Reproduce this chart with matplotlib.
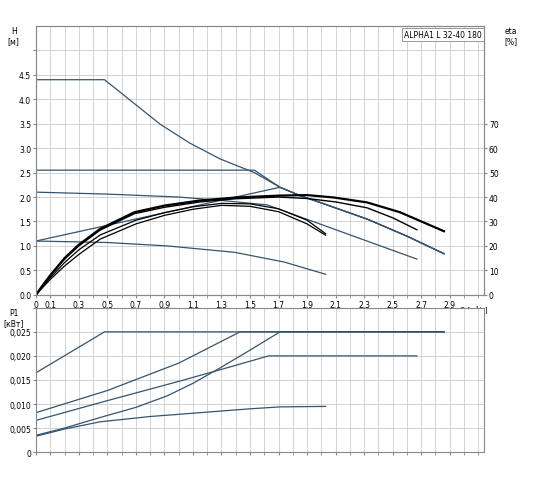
import matplotlib.pyplot as plt
from matplotlib.ticker import FixedLocator

# head curves H [m] vs Q [m3/h]
q_max = [0, 0.48, 0.87, 1.08, 1.29, 1.53, 1.71, 1.85, 1.99, 2.32, 2.6, 2.86]
h_max = [4.4, 4.4, 3.49, 3.1, 2.78, 2.5, 2.2, 2.03, 1.89, 1.55, 1.2, 0.84]
q_cp = [0, 1.53, 1.71, 1.85, 1.99, 2.32, 2.6, 2.86]
h_cp = [2.55, 2.55, 2.2, 2.03, 1.89, 1.55, 1.2, 0.84]
q_pp = [0, 0.5, 1.0, 1.3, 1.62, 2.67]
h_pp = [2.1, 2.06, 2.0, 1.93, 1.84, 0.73]
q_pp2 = [0, 1.71, 1.85, 1.99, 2.32, 2.6, 2.86]
h_pp2 = [1.1, 2.2, 2.03, 1.89, 1.55, 1.2, 0.84]
q_low = [0, 0.5, 0.92, 1.39, 1.74, 2.03]
h_low = [1.1, 1.07, 1.0, 0.87, 0.67, 0.42]

# efficiency curves eta [%]
q_e1 = [0, 0.05, 0.1, 0.2, 0.3, 0.45, 0.69, 0.9, 1.15, 1.4, 1.71, 1.9, 2.09, 2.32, 2.55, 2.86]
e_e1 = [0, 4.2, 8, 15, 20.5, 27, 33.8, 36.5, 38.6, 39.8, 40.6, 40.8, 39.8, 37.8, 33.8, 26]
q_e2 = [0, 0.05, 0.1, 0.2, 0.3, 0.45, 0.69, 0.9, 1.15, 1.4, 1.7, 1.9, 2.1, 2.32, 2.5, 2.67]
e_e2 = [0, 4, 7.8, 14.6, 20, 26.5, 33.2, 35.8, 38, 39.3, 40, 39.4, 38, 35.6, 31.5, 26.6]
q_e3 = [0, 0.05, 0.1, 0.2, 0.3, 0.45, 0.7, 0.9, 1.1, 1.3, 1.5, 1.7, 1.9, 2.03]
e_e3 = [0, 3.2, 6.3, 11.8, 16.5, 22.8, 29, 32.5, 35, 36.6, 36.2, 34, 29, 24.4]
q_e4 = [0, 0.05, 0.1, 0.2, 0.3, 0.45, 0.7, 0.9, 1.1, 1.3, 1.5, 1.7, 1.9, 2.03]
e_e4 = [0, 3.6, 7, 13.2, 18.4, 24.5, 30.5, 33.6, 36, 37.4, 37.2, 35.2, 30.5, 25]

# power curves P1 [kW]
q_p1 = [0, 0.48, 2.86]
p_p1 = [0.0165, 0.025, 0.025]
q_p2 = [0, 0.5, 1.0, 1.43, 2.86]
p_p2 = [0.0082, 0.0128, 0.0185, 0.025, 0.025]
q_p3 = [0, 0.5, 1.0, 1.3, 1.63, 2.67]
p_p3 = [0.0066, 0.0107, 0.0147, 0.0172, 0.020, 0.020]
q_p4 = [0, 0.2, 0.45, 0.7, 0.92, 1.1, 1.29, 1.5, 1.71, 2.86]
p_p4 = [0.0035, 0.0050, 0.0072, 0.0093, 0.0117, 0.0143, 0.0175, 0.0212, 0.025, 0.025]
q_p5 = [0, 0.2, 0.45, 0.8, 1.15, 1.5, 1.71, 2.03]
p_p5 = [0.0033, 0.0048, 0.0063, 0.0074, 0.0082, 0.0090, 0.0094, 0.0095]

q_ticks = [0, 0.1, 0.3, 0.5, 0.7, 0.9, 1.1, 1.3, 1.5, 1.7, 1.9, 2.1, 2.3, 2.5, 2.7, 2.9]

plt.rcParams['font.family'] = 'DejaVu Sans'
plt.rcParams['font.size'] = 5.5
col = '#34546e'
xmax = 3.14

fig = plt.figure(figsize=(5.5, 4.81), dpi=100)
ax = fig.add_axes([0.0655, 0.385, 0.8145, 0.559])
ax2 = ax.twinx()
axp = fig.add_axes([0.0655, 0.058, 0.8145, 0.3])

for q, h in [(q_max, h_max), (q_cp, h_cp), (q_pp, h_pp), (q_pp2, h_pp2), (q_low, h_low)]:
    ax.plot(q, h, color=col, lw=0.9)
for q, e, w in [(q_e1, e_e1, 1.6), (q_e2, e_e2, 1.0), (q_e3, e_e3, 0.9), (q_e4, e_e4, 0.9)]:
    ax2.plot(q, e, color='black', lw=w)

for q, p in [(q_p1, p_p1), (q_p2, p_p2), (q_p3, p_p3), (q_p4, p_p4), (q_p5, p_p5)]:
    axp.plot(q, p, color=col, lw=0.9)

for a in (ax, axp):
    a.set_xlim(0, xmax)
    a.xaxis.set_minor_locator(FixedLocator([i / 10 for i in range(32)]))
    a.grid(True, which='both', axis='x', color='#cccccc', lw=0.6)
    a.grid(True, which='major', axis='y', color='#cccccc', lw=0.6)
    a.set_axisbelow(True)
    for s in a.spines.values():
        s.set_color('#888888')
    a.tick_params(length=2, color='#888888', which='both', pad=1.5)

ax.set_xticks(q_ticks)
ax.set_xticklabels([f'{t:g}'.replace('.', ',') for t in q_ticks])
ax.set_ylim(0, 5.5)
ax.set_yticks([i * 0.5 for i in range(11)])
ax.set_yticklabels([f'{i * 0.5:.1f}' if i < 10 else '' for i in range(11)])
ax2.set_ylim(0, 110)
ax2.set_yticks(range(0, 80, 10))
ax2.tick_params(length=2, color='#888888', pad=1.5)
for s in ax2.spines.values():
    s.set_color('#888888')
ax.text(-0.05, 1.0, 'H\n[м]', transform=ax.transAxes, ha='center', va='top', fontsize=5.5)
ax.text(1.06, 1.0, 'eta\n[%]', transform=ax.transAxes, ha='center', va='top', fontsize=5.5)
ax.text(2.97, -0.27, 'Q [м³/ч]', ha='left', va='center', fontsize=5)
ax.text(0.995, 0.985, 'ALPHA1 L 32-40 180', transform=ax.transAxes, ha='right', va='top',
        fontsize=5.5, bbox=dict(facecolor='white', edgecolor='#888888', lw=0.6, pad=1.5))

axp.set_ylim(0, 0.03)
axp.set_yticks([0, 0.005, 0.01, 0.015, 0.02, 0.025, 0.03])
axp.set_yticklabels(['0', '0,005', '0,010', '0,015', '0,020', '0,025', ''])
axp.set_xticks(q_ticks)
axp.tick_params(axis='x', labelbottom=False)
axp.text(-0.05, 1.0, 'P1\n[кВт]', transform=axp.transAxes, ha='center', va='top', fontsize=5.5)

fig.savefig('out.png', dpi=100)
